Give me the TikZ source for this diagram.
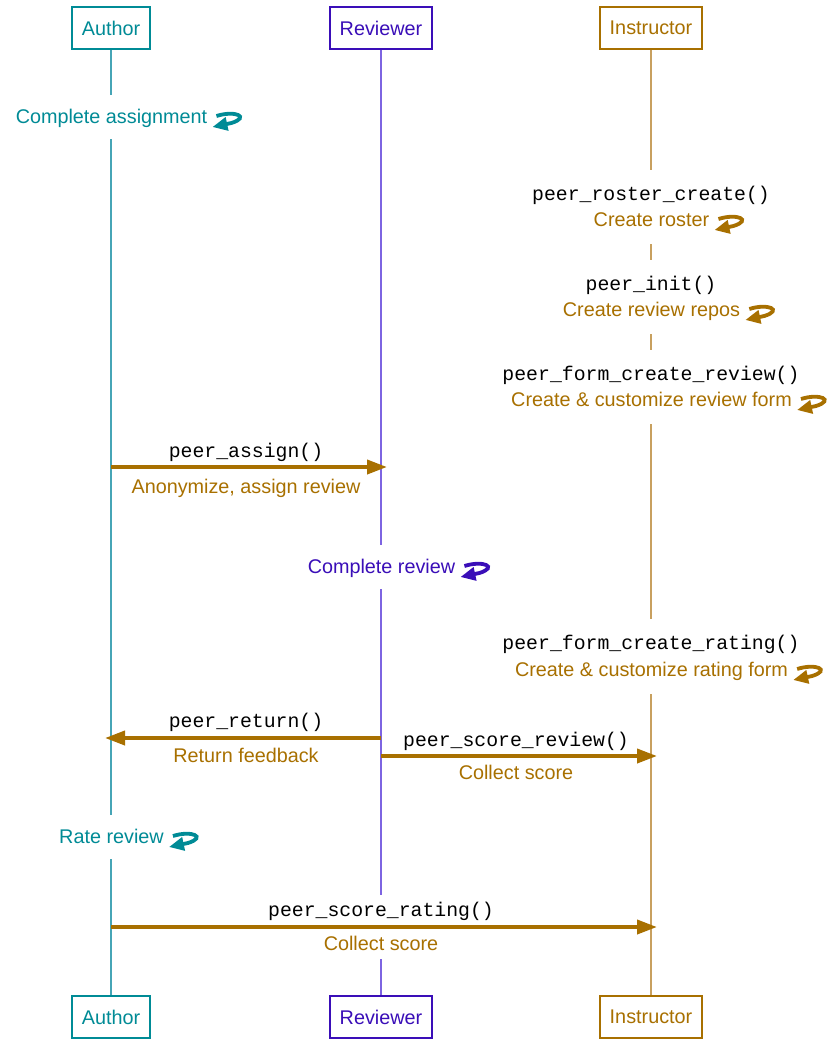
\documentclass[tikz,border=0pt]{standalone}
\usepackage{fontspec}
\setmainfont{Liberation Sans}
\setmonofont{Liberation Mono}
\usetikzlibrary{arrows.meta}
\definecolor{authorc}{RGB}{0,139,150}
\definecolor{reviewc}{RGB}{58,14,184}
\definecolor{instrc}{RGB}{168,112,0}
\definecolor{authorl}{RGB}{70,165,182}
\definecolor{reviewl}{RGB}{125,100,225}
\definecolor{instrl}{RGB}{200,160,95}
\begin{document}
\begin{tikzpicture}[x=1pt,y=-1pt,
 every node/.style={font=\fontsize{19.8}{24}\selectfont},
 actor/.style={draw=#1,text=#1,line width=2pt,minimum height=42pt,inner xsep=10pt,inner ysep=0pt,fill=white},
 life/.style={line width=1.2pt,color=#1},
 code/.style={font=\fontsize{19.8}{24}\selectfont\ttfamily,text=black,inner xsep=2pt,inner ysep=12pt,text height=16pt,text depth=4pt},
 desc/.style={text=#1,inner xsep=2pt,inner ysep=12pt,text height=16pt,text depth=4pt},
 codetop/.style={code,fill=white,anchor=base,text height=28pt,text depth=4pt,inner ysep=2pt},
 descbot/.style={desc=#1,fill=white,anchor=base,text height=19pt,text depth=16pt,inner ysep=2pt},
 msg/.style={line width=3.8pt,instrc,-{Triangle[length=20pt,width=14pt]}},
 selfloop/.pic={\draw[line width=3.8pt,-{Triangle[length=15pt,width=13pt]}] (5,-1) .. controls (24,-7) and (39,0) .. (20,6) -- (1,10);}
]
\useasboundingbox (0,0) rectangle (831,1045);
% actors
\node[actor=authorc] (aT) at (111,28) {Author};
\node[actor=reviewc] (rT) at (381,28) {Reviewer};
\node[actor=instrc] (iT) at (651,28) {Instructor};
\node[actor=authorc] (aB) at (111,1017) {Author};
\node[actor=reviewc] (rB) at (381,1017) {Reviewer};
\node[actor=instrc] (iB) at (651,1017) {Instructor};
% lifelines
\draw[life=authorl] (aT.south) -- (aB.north);
\draw[life=reviewl] (rT.south) -- (rB.north);
\draw[life=instrl] (iT.south) -- (iB.north);
% Author: complete assignment
\node[desc=authorc,fill=white] (d1) at (111.5,117) {Complete assignment};
\pic[authorc] at ([xshift=2pt]d1.east) {selfloop};
% Instructor self messages
\node[codetop] (c2) at (651,200) {peer\_roster\_create()};
\node[descbot=instrc] (d2) at (651.5,226) {Create roster};
\pic[instrc] at ([shift={(2,-6)}]d2.base east) {selfloop};
\node[codetop] (c3) at (651,290) {peer\_init()};
\node[descbot=instrc] (d3) at (651.5,316) {Create review repos};
\pic[instrc] at ([shift={(2,-6)}]d3.base east) {selfloop};
\node[codetop] (c4) at (651,380) {peer\_form\_create\_review()};
\node[descbot=instrc] (d4) at (651.5,406) {Create \& customize review form};
\pic[instrc] at ([shift={(2,-6)}]d4.base east) {selfloop};
% peer_assign
\node[code] (c5) at (246,451) {peer\_assign()};
\node[desc=instrc] (d5) at (246,487) {Anonymize, assign review};
% Reviewer self
\node[desc=reviewc,fill=white] (d6) at (381.5,567) {Complete review};
\pic[reviewc] at ([xshift=2pt]d6.east) {selfloop};
% rating form
\node[codetop] (c7) at (651,649) {peer\_form\_create\_rating()};
\node[descbot=instrc] (d7) at (651.5,676) {Create \& customize rating form};
\pic[instrc] at ([shift={(2,-6)}]d7.base east) {selfloop};
% peer_return / score_review
\node[code] (c8) at (246,721) {peer\_return()};
\node[desc=instrc] (d8) at (246,756) {Return feedback};
\node[code] (c9) at (516,740) {peer\_score\_review()};
\node[desc=instrc] (d9) at (516,773) {Collect score};
% Rate review
\node[desc=authorc,fill=white] (d10) at (111.5,837) {Rate review};
\pic[authorc] at ([xshift=2pt]d10.east) {selfloop};
% score rating
\node[code,fill=white,inner ysep=5pt] (c11) at (381,910) {peer\_score\_rating()};
\node[desc=instrc,fill=white,inner ysep=5pt] (d11) at (381,944) {Collect score};
% message arrows
\coordinate (m1s) at (111,467);
\coordinate (m1e) at (387,467);
\coordinate (m2s) at (381,738);
\coordinate (m2e) at (105,738);
\coordinate (m3s) at (381,756);
\coordinate (m3e) at (657,756);
\coordinate (m4s) at (111,927);
\coordinate (m4e) at (657,927);
\draw[msg] (m1s) -- (m1e);
\draw[msg] (m2s) -- (m2e);
\draw[msg] (m3s) -- (m3e);
\draw[msg] (m4s) -- (m4e);
\end{tikzpicture}
\end{document}
